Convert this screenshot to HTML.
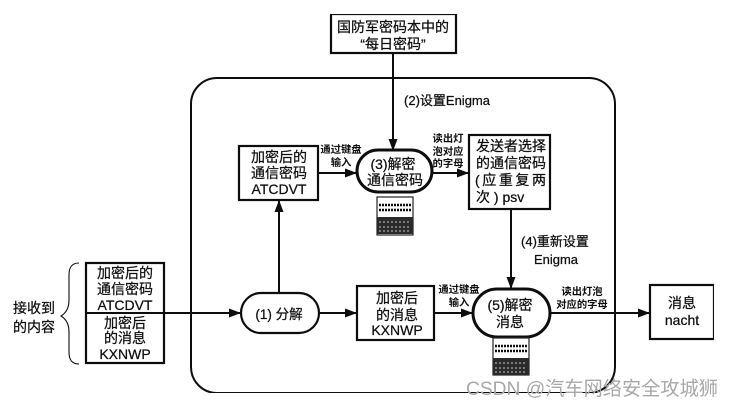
<!DOCTYPE html>
<html><head><meta charset="utf-8"><style>
html,body{margin:0;padding:0;background:#fff;width:732px;height:407px;overflow:hidden}
svg{display:block}
text{font-family:"Liberation Sans","Noto Sans CJK SC",sans-serif;fill:#111;stroke:#111;stroke-width:.25px;text-anchor:middle;font-size:14px}
.s{font-size:10.3px;font-weight:700;stroke:none}
.m{font-size:13px}
.st{text-anchor:start}
</style></head><body>
<svg width="732" height="407" viewBox="0 0 732 407" xmlns="http://www.w3.org/2000/svg">
<defs>
<marker id="a" markerWidth="12" markerHeight="9" refX="11" refY="4.5" orient="auto" markerUnits="userSpaceOnUse"><path d="M0 0L12 4.5L0 9Z" fill="#111"/></marker>
<filter id="b" x="0" y="0" width="100%" height="100%"><feGaussianBlur stdDeviation="0.35"/></filter>
</defs>
<g filter="url(#b)">
<g fill="none" stroke="#111" stroke-width="2">
<rect x="191" y="78" width="424" height="315" rx="26"/>
<g stroke-width="2.2" fill="#fff">
<rect x="331" y="14" width="125" height="39"/>
<rect x="239" y="146" width="79" height="54"/>
<rect x="469" y="135" width="81" height="74"/>
<rect x="357" y="286" width="77" height="54"/>
<rect x="650" y="285" width="64" height="54"/>
<rect x="86" y="263" width="78" height="100"/>
</g>
<path d="M393 53V150" marker-end="url(#a)"/>
<path d="M279 293V201" marker-end="url(#a)"/>
<path d="M511 209V288" marker-end="url(#a)"/>
<path d="M318 173H356" marker-end="url(#a)"/>
<path d="M432 173H468" marker-end="url(#a)"/>
<path d="M86 313H240" marker-end="url(#a)"/>
<path d="M319 313H356" marker-end="url(#a)"/>
<path d="M434 313H472" marker-end="url(#a)"/>
<path d="M550 313H649" marker-end="url(#a)"/>
<path d="M79 263C72 263 69 267 69 275V300C69 308 66 313 61 316C66 319 69 324 69 332V352C69 360 72 364 79 364" stroke-width="1.1"/>
<rect x="241" y="293" width="78" height="40" rx="20" fill="#fff" stroke-width="2.2"/>
<rect x="357" y="150" width="75" height="42" rx="21" fill="#fff" stroke-width="3"/>
<rect x="473" y="289" width="77" height="48" rx="24" fill="#fff" stroke-width="3"/>
</g>
<g fill="#fff" stroke="#222" stroke-width="1.2">
<rect x="377" y="197" width="36" height="38"/>
<rect x="493" y="338" width="36" height="37"/>
</g>
<g fill="#2a2a2a">
<rect x="377" y="217" width="36" height="17"/>
<rect x="493" y="358" width="36" height="17"/>
</g>
<g fill="none" stroke="#111">
<path d="M379 205H411M379 210H411" stroke-width="2.6" stroke-dasharray="2 1"/>
<path d="M495 346H527M495 351H527" stroke-width="2.6" stroke-dasharray="2 1"/>
</g>
<g fill="none" stroke="#aaa">
<path d="M379 222H411M379 227H411M379 231H411" stroke-width="1.2" stroke-dasharray="2 2"/>
<path d="M495 363H527M495 368H527M495 372H527" stroke-width="1.2" stroke-dasharray="2 2"/>
</g>
<text x="393" y="32">国防军密码本中的</text>
<text x="393" y="49">“每日密码”</text>
<text x="447" y="105" class="m">(2)设置Enigma</text>
<text x="279" y="162">加密后的</text><text x="279" y="178">通信密码</text><text x="279" y="194">ATCDVT</text>
<text x="341" y="153" class="s">通过键盘</text><text x="341" y="166" class="s">输入</text>
<text x="448" y="142" class="s">读出灯</text><text x="448" y="155" class="s">泡对应</text><text x="448" y="167" class="s">的字母</text>
<text x="393" y="169">(3)解密</text><text x="395" y="185">通信密码</text>
<text x="511" y="151">发送者选择</text><text x="511" y="168">的通信密码</text>
<text x="475" y="185" class="st" textLength="71" lengthAdjust="spacing">( 应 重 复 两</text><text x="476" y="202" class="st">次 ) psv</text>
<text x="555" y="246" class="m">(4)重新设置</text><text x="556" y="264" class="m">Enigma</text>
<text x="34" y="313">接收到</text><text x="34" y="332">的内容</text>
<text x="125" y="278">加密后的</text><text x="125" y="294">通信密码</text><text x="125" y="310">ATCDVT</text>
<text x="125" y="328">加密后</text><text x="125" y="343">的消息</text><text x="125" y="359">KXNWP</text>
<text x="279" y="319" style="font-size:13.500px">(1) 分解</text>
<text x="397" y="303">加密后</text><text x="397" y="320">的消息</text><text x="397" y="335">KXNWP</text>
<text x="459" y="293" class="s">通过键盘</text><text x="459" y="306" class="s">输入</text>
<text x="510" y="310">(5)解密</text><text x="510" y="327">消息</text>
<text x="582" y="295" class="s">读出灯泡</text><text x="582" y="308" class="s">对应的字母</text>
<text x="682" y="308">消息</text><text x="682" y="325">nacht</text>
</g>
<text x="592" y="395" textLength="252" lengthAdjust="spacingAndGlyphs" style="font-size:19.500px;fill:#a8a8a8;stroke:none">CSDN @汽车网络安全攻城狮</text>
</svg>
</body></html>
